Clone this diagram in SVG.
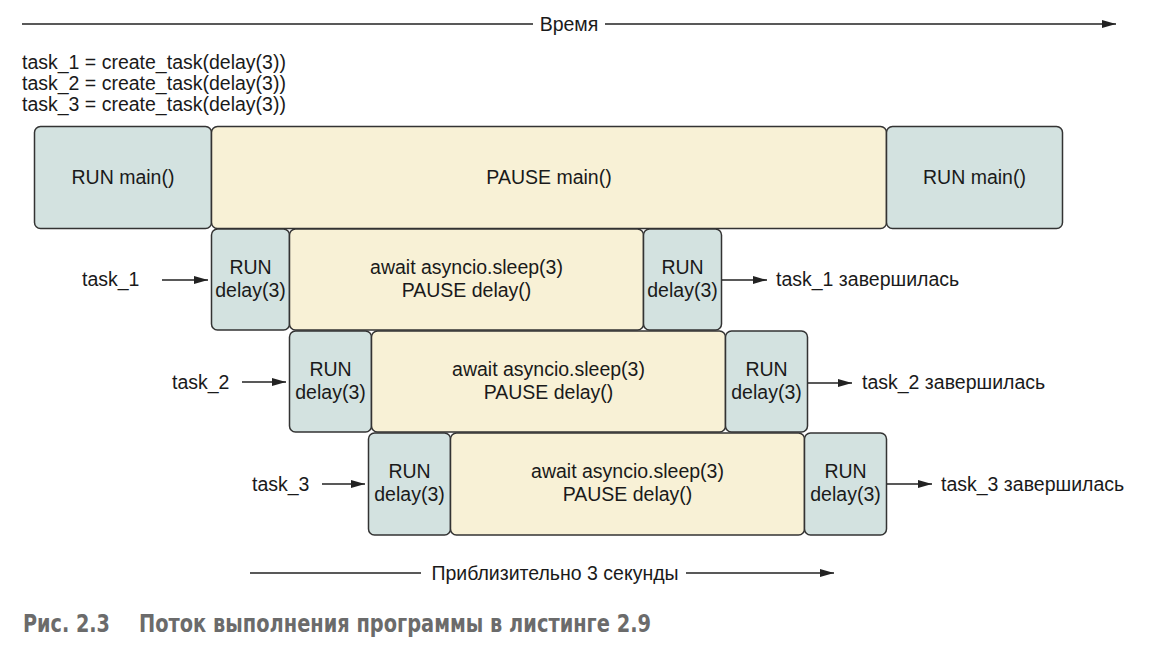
<svg xmlns="http://www.w3.org/2000/svg" width="1165" height="658" viewBox="0 0 1165 658">
<style>
text{font-family:"Liberation Sans",Arial,sans-serif;font-size:19.5px;fill:#1a1a1a}
.c{text-anchor:middle}
.run{fill:#d3e2e0;stroke:#333;stroke-width:1.5}
.pause{fill:#f8f1d6;stroke:#333;stroke-width:1.5}
.ln{stroke:#222;stroke-width:1.5;fill:none}
.cap{font-family:"DejaVu Sans Condensed","DejaVu Sans",sans-serif;font-weight:bold;font-size:24px;fill:#6b6b6b}
</style>
<defs>
<marker id="ah" viewBox="0 0 14 8" refX="14" refY="4" markerWidth="14" markerHeight="8" markerUnits="userSpaceOnUse" orient="auto">
<path d="M0,0 L14,4 L0,8 Z" fill="#222"/>
</marker>
</defs>
<rect width="1165" height="658" fill="#fff"/>

<g id="time-axis">
<line class="ln" x1="22" y1="24" x2="533" y2="24"/>
<text class="c" x="569" y="31">Время</text>
<line class="ln" x1="605" y1="24" x2="1116" y2="24" marker-end="url(#ah)"/>
</g>

<g id="code">
<text x="22" y="69">task_1 = create_task(delay(3))</text>
<text x="22" y="90">task_2 = create_task(delay(3))</text>
<text x="22" y="111">task_3 = create_task(delay(3))</text>
</g>

<g id="main-run1"><rect class="run" x="34.5" y="126.5" width="177" height="102" rx="6"/><text class="c" x="123" y="184">RUN main()</text></g>
<g id="main-pause"><rect class="pause" x="211.5" y="126.5" width="675" height="102" rx="6"/><text class="c" x="549" y="184">PAUSE main()</text></g>
<g id="main-run2"><rect class="run" x="886.5" y="126.5" width="176" height="102" rx="6"/><text class="c" x="974.5" y="184">RUN main()</text></g>

<g id="t1-run1"><rect class="run" x="211.5" y="229" width="78" height="101" rx="6"/><text class="c" x="250.5" y="274">RUN</text><text class="c" x="250.5" y="297">delay(3)</text></g>
<g id="t1-pause"><rect class="pause" x="289.5" y="229" width="354" height="101" rx="6"/><text class="c" x="466.5" y="274">await asyncio.sleep(3)</text><text class="c" x="466.5" y="297">PAUSE delay()</text></g>
<g id="t1-run2"><rect class="run" x="643.5" y="229" width="78" height="101" rx="6"/><text class="c" x="682.5" y="274">RUN</text><text class="c" x="682.5" y="297">delay(3)</text></g>

<g id="t2-run1"><rect class="run" x="289.5" y="331" width="82" height="101" rx="6"/><text class="c" x="330.5" y="376">RUN</text><text class="c" x="330.5" y="399">delay(3)</text></g>
<g id="t2-pause"><rect class="pause" x="371.5" y="331" width="354" height="101" rx="6"/><text class="c" x="548.5" y="376">await asyncio.sleep(3)</text><text class="c" x="548.5" y="399">PAUSE delay()</text></g>
<g id="t2-run2"><rect class="run" x="725.5" y="331" width="82" height="101" rx="6"/><text class="c" x="766.5" y="376">RUN</text><text class="c" x="766.5" y="399">delay(3)</text></g>

<g id="t3-run1"><rect class="run" x="368.5" y="433" width="82" height="102" rx="6"/><text class="c" x="409.5" y="478">RUN</text><text class="c" x="409.5" y="501">delay(3)</text></g>
<g id="t3-pause"><rect class="pause" x="450.5" y="433" width="354" height="102" rx="6"/><text class="c" x="627.5" y="478">await asyncio.sleep(3)</text><text class="c" x="627.5" y="501">PAUSE delay()</text></g>
<g id="t3-run2"><rect class="run" x="804.5" y="433" width="82" height="102" rx="6"/><text class="c" x="845.5" y="478">RUN</text><text class="c" x="845.5" y="501">delay(3)</text></g>

<g id="labels">
<text x="82" y="286">task_1</text>
<text x="172" y="389">task_2</text>
<text x="252" y="491">task_3</text>
<text x="776" y="286">task_1 завершилась</text>
<text x="862" y="389">task_2 завершилась</text>
<text x="941" y="491">task_3 завершилась</text>
</g>

<g id="connectors">
<line class="ln" x1="162" y1="280" x2="208" y2="280" marker-end="url(#ah)"/>
<line class="ln" x1="242" y1="382" x2="286" y2="382" marker-end="url(#ah)"/>
<line class="ln" x1="322" y1="484" x2="365" y2="484" marker-end="url(#ah)"/>
<line class="ln" x1="722" y1="280" x2="767" y2="280" marker-end="url(#ah)"/>
<line class="ln" x1="808" y1="383" x2="852" y2="383" marker-end="url(#ah)"/>
<line class="ln" x1="887" y1="484" x2="932" y2="484" marker-end="url(#ah)"/>
</g>

<g id="duration">
<line class="ln" x1="250" y1="573" x2="421" y2="573"/>
<text class="c" x="555" y="580">Приблизительно 3 секунды</text>
<line class="ln" x1="686" y1="573" x2="834" y2="573" marker-end="url(#ah)"/>
</g>

<g id="caption">
<text class="cap" x="23" y="632" textLength="87" lengthAdjust="spacingAndGlyphs">Рис. 2.3</text>
<text class="cap" x="139" y="632" textLength="512" lengthAdjust="spacingAndGlyphs">Поток выполнения программы в листинге 2.9</text>
</g>
</svg>
